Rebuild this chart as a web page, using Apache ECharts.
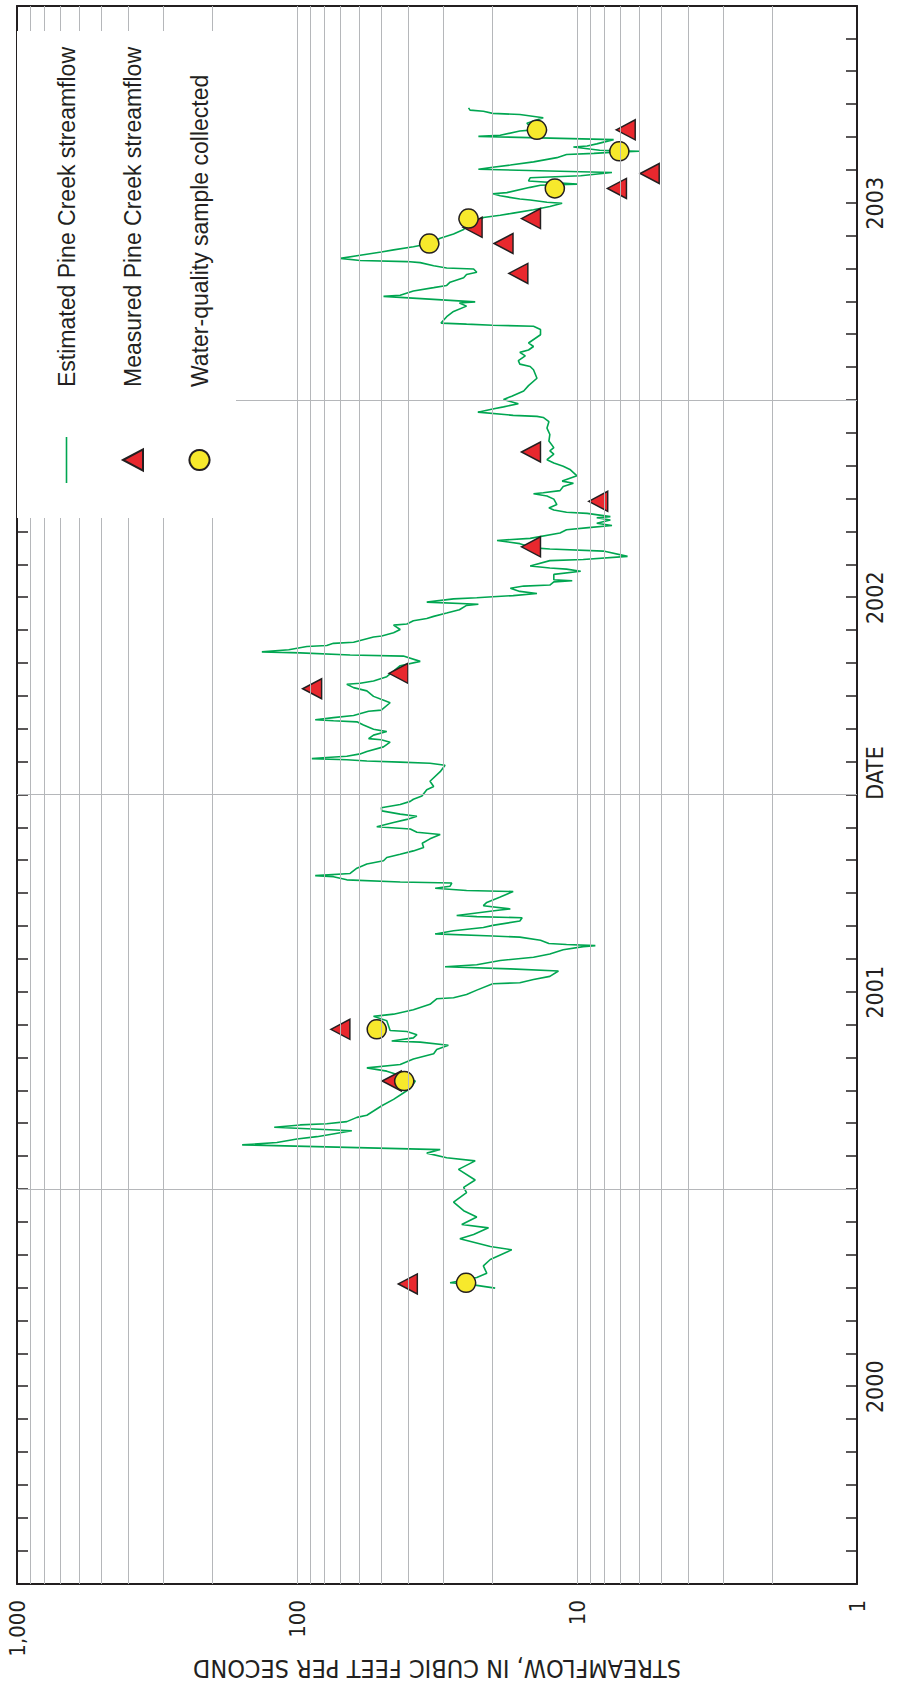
<!DOCTYPE html>
<html><head><meta charset="utf-8">
<script src="https://cdn.jsdelivr.net/npm/echarts/dist/echarts.min.js"></script>
<style>
html,body{margin:0;padding:0;background:#fff;overflow:hidden;width:920px;height:1688px;}
#wrap{position:absolute;left:0;top:0;width:1688px;height:920px;transform-origin:0 0;transform:translateY(1688px) rotate(-90deg);}
#chart{width:1688px;height:920px;}
</style></head>
<body><div id="wrap"><div id="chart"></div></div>
<script>
// ---------------- data ----------------
const yearLabels = ['2000', '2001', '2002', '2003'];
const valueTickLabels = ['1', '10', '100', '1,000'];
const minorGridValues = [2,3,4,5,6,7,8,9,10,20,30,40,50,60,70,80,90,100,200,300,400,500,600,700,800,900];
const yearBoundaryDates = ['2001-01-01', '2002-01-01', '2003-01-01'];

const flowDates = [
'2000-10-01','2000-10-05','2000-10-06','2000-10-11','2000-10-15','2000-10-22','2000-10-28',
'2000-11-06','2000-11-09','2000-11-16','2000-11-20','2000-11-26','2000-11-29',
'2000-12-06','2000-12-12','2000-12-20','2000-12-29',
'2001-01-03','2001-01-10','2001-01-20','2001-01-28','2001-01-31',
'2001-02-04','2001-02-07','2001-02-11','2001-02-13','2001-02-16','2001-02-18','2001-02-23','2001-02-26','2001-02-28',
'2001-03-01','2001-03-03','2001-03-07','2001-03-09','2001-03-13','2001-03-18','2001-03-24','2001-03-30',
'2001-04-03','2001-04-10','2001-04-15','2001-04-19','2001-04-22','2001-04-25','2001-04-30',
'2001-05-05','2001-05-09','2001-05-13','2001-05-16','2001-05-17','2001-05-20','2001-05-23','2001-05-26','2001-05-27',
'2001-06-05','2001-06-09','2001-06-11','2001-06-15','2001-06-20','2001-06-25','2001-06-26','2001-06-29',
'2001-07-03','2001-07-09','2001-07-10','2001-07-13','2001-07-16','2001-07-21','2001-07-23','2001-07-25','2001-07-27','2001-07-31',
'2001-08-03','2001-08-06','2001-08-10','2001-08-13','2001-08-14','2001-08-15','2001-08-16','2001-08-19','2001-08-22','2001-08-23','2001-08-25','2001-08-28','2001-08-31',
'2001-09-02','2001-09-06','2001-09-09','2001-09-10','2001-09-11','2001-09-16','2001-09-17','2001-09-20','2001-09-23','2001-09-28',
'2001-10-03','2001-10-04','2001-10-06','2001-10-08','2001-10-11','2001-10-12','2001-10-14','2001-10-17','2001-10-18','2001-10-20','2001-10-25','2001-10-29',
'2001-11-01','2001-11-04','2001-11-07','2001-11-10','2001-11-13','2001-11-17','2001-11-21','2001-11-25','2001-11-27','2001-11-30',
'2001-12-02','2001-12-06','2001-12-09','2001-12-12','2001-12-14','2001-12-17','2001-12-20','2001-12-23','2001-12-26','2001-12-28','2001-12-31',
'2002-01-06','2002-01-09','2002-01-14','2002-01-23','2002-01-29','2002-01-31',
'2002-02-01','2002-02-02','2002-02-03','2002-02-04','2002-02-05','2002-02-06','2002-02-08','2002-02-10','2002-02-14','2002-02-18','2002-02-20','2002-02-21','2002-02-24','2002-02-27',
'2002-03-01','2002-03-05','2002-03-08','2002-03-09','2002-03-10','2002-03-12','2002-03-14','2002-03-18','2002-03-19','2002-03-26','2002-03-29',
'2002-04-01','2002-04-06','2002-04-09','2002-04-12','2002-04-13','2002-04-15','2002-04-19','2002-04-29',
'2002-05-03','2002-05-08','2002-05-09','2002-05-11','2002-05-12','2002-05-14','2002-05-17','2002-05-18','2002-05-20','2002-05-21','2002-05-26','2002-05-27','2002-05-30',
'2002-06-02','2002-06-06','2002-06-07','2002-06-10','2002-06-12','2002-06-14','2002-06-17','2002-06-20','2002-06-24','2002-06-25','2002-06-27','2002-06-30',
'2002-07-01','2002-07-02','2002-07-03','2002-07-05','2002-07-07','2002-07-10','2002-07-12','2002-07-13','2002-07-16','2002-07-17','2002-07-18','2002-07-23','2002-07-26','2002-07-28','2002-07-29','2002-07-31',
'2002-08-05','2002-08-06','2002-08-09','2002-08-14','2002-08-16','2002-08-17','2002-08-21','2002-08-24','2002-08-26','2002-08-31',
'2002-09-03','2002-09-05','2002-09-07','2002-09-09','2002-09-12','2002-09-14','2002-09-15','2002-09-18','2002-09-19','2002-09-21','2002-09-23','2002-09-26',
'2002-10-01','2002-10-04','2002-10-06','2002-10-07','2002-10-09','2002-10-13','2002-10-16','2002-10-18','2002-10-23','2002-10-29',
'2002-11-01','2002-11-04','2002-11-07','2002-11-12','2002-11-15','2002-11-18','2002-11-24','2002-11-30',
'2002-12-06','2002-12-12','2002-12-16','2002-12-17','2002-12-18','2002-12-21','2002-12-24','2002-12-26','2002-12-29','2002-12-31',
'2003-01-02','2003-01-05','2003-01-10','2003-01-15','2003-01-22','2003-01-30',
'2003-02-02','2003-02-04','2003-02-07','2003-02-11','2003-02-14','2003-02-16','2003-02-19','2003-02-22',
'2003-03-01','2003-03-06','2003-03-09','2003-03-10','2003-03-11','2003-03-12','2003-03-18','2003-03-23','2003-03-28','2003-03-31',
'2003-04-01','2003-04-06','2003-04-07','2003-04-11','2003-04-14','2003-04-16','2003-04-19','2003-04-23','2003-04-26','2003-04-28',
'2003-05-01','2003-05-02','2003-05-04','2003-05-07','2003-05-08','2003-05-09','2003-05-11','2003-05-14','2003-05-17','2003-05-19','2003-05-22','2003-05-25','2003-05-30',
'2003-06-03','2003-06-07','2003-06-11','2003-06-14','2003-06-18','2003-06-20','2003-06-22','2003-06-25','2003-06-28',
'2003-07-01','2003-07-02','2003-07-04','2003-07-05','2003-07-08','2003-07-10','2003-07-11','2003-07-16','2003-07-18','2003-07-19','2003-07-22','2003-07-25','2003-07-27','2003-07-30',
'2003-08-02','2003-08-04','2003-08-06','2003-08-09','2003-08-13','2003-08-16','2003-08-17','2003-08-18','2003-08-19','2003-08-20','2003-08-23','2003-08-24','2003-08-26','2003-08-30',
'2003-09-02','2003-09-03','2003-09-07','2003-09-08','2003-09-14','2003-09-19','2003-09-22','2003-09-23','2003-09-25','2003-09-26','2003-09-28'
];
const flowValues = [
19.6,24.8,28.4,22.8,21.0,21.6,20.4,
17.1,20.4,26.2,23.4,20.7,25.8,
22.8,25.4,27.6,24.8,
25.4,23.1,26.5,23.1,29.2,
34.4,30.8,157,118,100,84.9,63.7,120.6,97.4,
78.3,66.4,61.1,56.3,53.3,49.8,45.2,41.7,
39.4,37.8,42.8,47.8,56.3,42.8,38.4,
32.5,31.7,28.8,36.3,45.9,38.4,37.3,40.5,46.5,
47.8,53.3,45.2,38.4,33.5,31.7,27.6,24.8,
22.8,20.0,16.0,14.3,12.5,11.65,17.3,29.6,22.8,18.8,
14.3,12.5,11.2,9.5,8.6,10.9,12.6,13.5,16.0,20.0,32.1,27.6,21.6,
20.0,16.0,15.7,22.8,26.9,18.8,17.3,21.6,21.0,18.8,
16.9,24.8,32.1,28.4,28.0,42.8,66.4,74.1,86.1,64.6,61.1,56.3,
49.1,47.8,42.8,38.4,35.3,35.7,33.5,30.8,37.3,39.4,
51.9,45.2,40.5,37.3,42.8,49.8,50.0,42.8,39.4,38.4,35.8,
34.4,32.5,33.5,30.8,29.6,33.5,
42.8,56.3,66.4,88.5,78.3,66.4,59.5,56.3,49.1,46.5,50.0,55.5,53.3,47.8,
53.3,57.9,61.1,74.1,86.1,74.1,62.8,55.5,50.0,46.5,49.8,
53.3,56.3,62.8,66.4,59.5,53.3,47.8,42.8,
36.3,41.7,64.6,97.4,133.5,107,92.2,78.3,74.1,62.8,53.3,49.8,45.2,
42.8,45.2,40.5,38.4,34.4,32.5,29.2,26.3,24.8,22.5,34.4,27.6,
22.8,20.0,16.9,13.9,16.0,17.3,15.5,12.5,12.1,10.4,12.1,12.1,9.7,10.9,12.5,14.7,
12.5,9.5,6.6,8.05,12.5,14.3,16.0,19.3,14.7,11.5,
10.9,9.1,7.5,8.5,7.6,8.5,7.6,9.2,10.9,12.1,12.6,11.8,
12.1,12.8,14.3,13.2,11.5,11.2,10.3,11.3,10.0,10.6,
11.2,12.1,12.8,12.1,12.5,12.1,12.6,12.5,
12.8,12.6,13.2,13.9,16.9,22.6,20.0,18.3,16.2,17.3,
18.3,17.1,15.5,14.9,13.9,14.3,
14.7,16.0,16.2,15.3,16.0,14.9,14.3,14.9,
13.5,13.5,14.3,20.0,24.8,30.6,29.2,27.6,24.8,26.3,
23.1,49.1,42.8,38.4,32.5,29.2,28.4,25.4,24.8,22.8,
23.4,29.2,32.5,36.3,40.5,59.5,70.0,59.5,50.0,45.2,38.4,33.5,30.8,
27.6,25.4,24.8,22.8,21.6,18.8,16.9,14.3,12.5,
11.3,12.8,14.7,16.0,18.8,20.0,17.8,14.7,13.5,10.0,14.9,14.7,9.7,7.5,
22.5,20.0,17.3,14.3,11.8,10.9,8.7,7.6,6.0,8.3,10.3,9.2,8.5,7.4,
22.5,18.8,16.0,14.3,15.1,13.2,16.0,20.0,21.6,24.1,24.4
];

const measuredDates = ['2000-10-05','2001-04-10','2001-05-28','2002-04-08','2002-04-22','2002-08-18','2002-09-29','2002-11-14','2003-04-27','2003-05-25','2003-06-09','2003-06-17','2003-07-15','2003-07-29','2003-09-08'];
const measuredValues = [40.2,45.9,70.0,88.3,43.4,14.6,8.4,14.6,16.2,18.3,23.6,14.6,7.2,5.5,6.7];

const sampleDates = ['2000-10-06','2001-04-10','2001-05-28','2003-05-25','2003-06-17','2003-07-15','2003-08-19','2003-09-08'];
const sampleValues = [24.9,41.4,51.9,33.7,24.4,12.0,7.06,13.9];

const seriesNames = ['Estimated Pine Creek streamflow', 'Measured Pine Creek streamflow', 'Water-quality sample collected'];

// ---------------- helpers ----------------
function toMonth(s) {
  const p = s.split('-').map(Number);
  const dim = new Date(Date.UTC(p[0], p[1], 0)).getUTCDate();
  return (p[0] - 2000) * 12 + (p[1] - 1) + (p[2] - 1) / dim;
}
function pairs(dates, vals) {
  const n = Math.min(dates.length, vals.length);
  const out = [];
  for (let i = 0; i < n; i++) out.push([toMonth(dates[i]), vals[i]]);
  return out;
}

const COND = "'Liberation Sans Narrow','DejaVu Sans Condensed','Arial Narrow',sans-serif";
const SANS = "'Liberation Sans',Arial,Helvetica,sans-serif";
const INK = '#231f20';
const GRIDC = '#b5b7ba';
const GREEN = '#00a651';
const RED = '#e8282e';
const YELLOW = '#f7e92c';

const gridMarks = minorGridValues.map(v => ({ yAxis: v }))
  .concat(yearBoundaryDates.map(d => ({ xAxis: toMonth(d) })));

const chart = echarts.init(document.getElementById('chart'), null, { renderer: 'svg', width: 1688, height: 920 });

const timeAxisBase = {
  type: 'value', min: 0, max: 48, interval: 1,
  axisLine: { show: true, onZero: false, lineStyle: { color: INK, width: 2 } },
  axisTick: { show: true, inside: true, length: 11, lineStyle: { color: INK, width: 1.5 } },
  splitLine: { show: false }, minorTick: { show: false }, minorSplitLine: { show: false }
};
const valueAxisBase = {
  type: 'log', logBase: 10, min: 1, max: 1000,
  axisLine: { show: true, onZero: false, lineStyle: { color: INK, width: 2 } },
  axisTick: { show: false }, splitLine: { show: false },
  minorTick: { show: false }, minorSplitLine: { show: false }
};

const option = {
  animation: false,
  backgroundColor: '#ffffff',
  grid: { left: 104, right: 6, top: 17, bottom: 63, containLabel: false, outerBoundsMode: 'none', show: false },
  xAxis: [
    Object.assign({}, timeAxisBase, {
      position: 'bottom',
      axisLabel: {
        show: true, margin: 6, fontFamily: COND, fontSize: 23, color: INK,
        formatter: function (v) {
          const r = Math.round(v);
          return (r % 12 === 6) ? (yearLabels[(r - 6) / 12] || '') : '';
        }
      },
      name: 'DATE', nameLocation: 'middle', nameGap: 6, nameMoveOverlap: false,
      nameTextStyle: { fontFamily: COND, fontSize: 23, color: INK, padding: [0, 0, 0, 44] }
    }),
    Object.assign({}, timeAxisBase, { position: 'top', axisLabel: { show: false } })
  ],
  yAxis: [
    Object.assign({}, valueAxisBase, {
      position: 'left',
      axisLabel: {
        show: true, margin: 16, fontFamily: COND, fontSize: 22, color: INK,
        formatter: function (v) {
          const k = Math.round(Math.log10(v));
          return valueTickLabels[k] || '';
        }
      },
      name: 'STREAMFLOW, IN CUBIC FEET PER SECOND', nameLocation: 'middle', nameGap: 72, nameMoveOverlap: false,
      nameTextStyle: { fontFamily: COND, fontSize: 25, color: INK }
    }),
    Object.assign({}, valueAxisBase, { position: 'right', axisLabel: { show: false } })
  ],
  legend: {
    show: true, orient: 'vertical', left: 1170, top: 17,
    padding: [38, 16, 25, 35],
    itemWidth: 46, itemHeight: 20, itemGap: 43.5,
    backgroundColor: '#ffffff', borderWidth: 0,
    selectedMode: false, symbolKeepAspect: true,
    data: [
      { name: seriesNames[0], icon: 'path://M0,0L46,0L46,1.6L0,1.6Z' },
      { name: seriesNames[1], icon: 'path://M10,0L20,19L0,19Z' },
      { name: seriesNames[2], icon: 'circle' }
    ],
    textStyle: { fontFamily: SANS, fontSize: 23, color: INK, lineHeight: 20, padding: [0, 0, 0, 45] },
    z: 10
  },
  series: [
    {
      type: 'line', name: 'gridlines', data: [], silent: true, z: 1,
      xAxisIndex: 0, yAxisIndex: 0,
      markLine: {
        silent: true, animation: false, symbol: ['none', 'none'],
        label: { show: false }, emphasis: { disabled: true },
        lineStyle: { color: GRIDC, width: 1, type: 'solid' },
        data: gridMarks
      }
    },
    {
      type: 'line', name: seriesNames[0], data: pairs(flowDates, flowValues),
      xAxisIndex: 0, yAxisIndex: 0, z: 2,
      symbol: 'none', showSymbol: false, silent: true,
      lineStyle: { color: GREEN, width: 1.6 }, itemStyle: { color: GREEN }
    },
    {
      type: 'scatter', name: seriesNames[1], data: pairs(measuredDates, measuredValues),
      xAxisIndex: 0, yAxisIndex: 0, z: 3, silent: true,
      symbol: 'triangle', symbolSize: [20, 19],
      itemStyle: { color: RED, borderColor: INK, borderWidth: 1.5, opacity: 1 }
    },
    {
      type: 'scatter', name: seriesNames[2], data: pairs(sampleDates, sampleValues),
      xAxisIndex: 0, yAxisIndex: 0, z: 4, silent: true,
      symbol: 'circle', symbolSize: 19,
      itemStyle: { color: YELLOW, borderColor: INK, borderWidth: 1.5, opacity: 1 }
    }
  ]
};
chart.setOption(option);
</script>
</body></html>
